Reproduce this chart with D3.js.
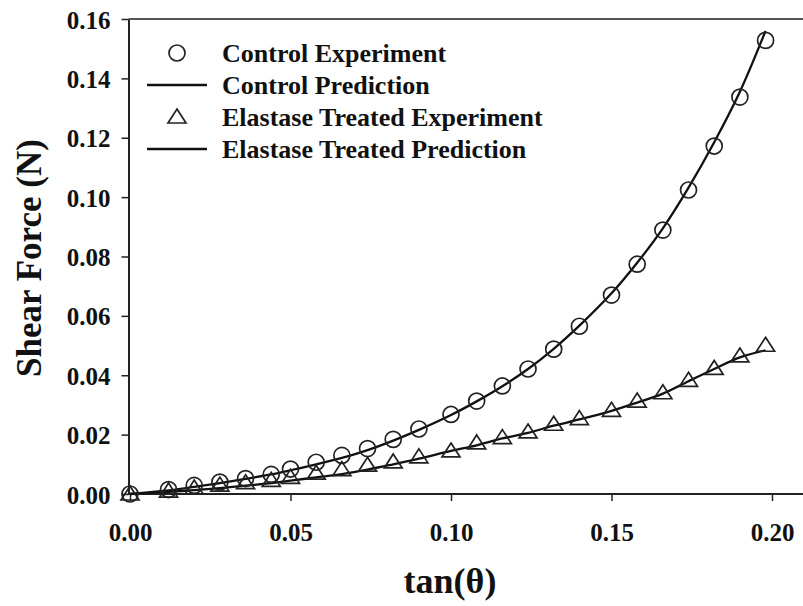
<!DOCTYPE html>
<html>
<head>
<meta charset="utf-8">
<script src="https://cdn.jsdelivr.net/npm/d3@7"></script>
<style>
  html, body { margin: 0; padding: 0; background: #fff; }
  svg { display: block; }
  text { font-family: "Liberation Serif", "Times New Roman", serif; font-weight: bold; fill: #111; }
</style>
</head>
<body>
<svg id="chart" width="803" height="606"></svg>
<script>
// ---- data ----
const tanTheta = [0, 0.012, 0.02, 0.028, 0.036, 0.044, 0.05, 0.058, 0.066, 0.074, 0.082, 0.09, 0.1, 0.108, 0.116, 0.124, 0.132, 0.14, 0.15, 0.158, 0.166, 0.174, 0.182, 0.19, 0.198];
const controlExperiment = [0, 0.0015, 0.0029, 0.0040, 0.0052, 0.0066, 0.0084, 0.0107, 0.0130, 0.0153, 0.0184, 0.0219, 0.0268, 0.0313, 0.0364, 0.0421, 0.0488, 0.0565, 0.0670, 0.0774, 0.0889, 0.1024, 0.1172, 0.1337, 0.1528];
const controlPrediction = [0, 0.0012, 0.0024, 0.0037, 0.0051, 0.0066, 0.0080, 0.0100, 0.0122, 0.0148, 0.0180, 0.0216, 0.0266, 0.0312, 0.0363, 0.0421, 0.0489, 0.0567, 0.0676, 0.0779, 0.0895, 0.1032, 0.1185, 0.1355, 0.1560];
const elastaseExperiment = [0, 0.0010, 0.0020, 0.0030, 0.0038, 0.0046, 0.0056, 0.0070, 0.0082, 0.0097, 0.0108, 0.0125, 0.0145, 0.0172, 0.0190, 0.0209, 0.0235, 0.0254, 0.0282, 0.0313, 0.0341, 0.0383, 0.0423, 0.0465, 0.0501];
const elastasePrediction = [0, 0.0007, 0.0013, 0.0020, 0.0028, 0.0037, 0.0045, 0.0056, 0.0067, 0.0082, 0.0100, 0.0119, 0.0145, 0.0164, 0.0187, 0.0206, 0.0230, 0.0251, 0.0280, 0.0308, 0.0338, 0.0380, 0.0421, 0.0460, 0.0484];
const xTicks = [0, 0.05, 0.10, 0.15, 0.20];
const yTicks = [0, 0.02, 0.04, 0.06, 0.08, 0.10, 0.12, 0.14, 0.16];
const legendLabels = ["Control Experiment", "Control Prediction", "Elastase Treated Experiment", "Elastase Treated Prediction"];
const xTitle = "tan(\u03B8)";
const yTitle = "Shear Force (N)";

// ---- layout ----
const svg = d3.select("#chart");
const W = 803, H = 606;
const padL = 128.5, padT = 19, axisY = 494;

const x = d3.scaleLinear().domain([0, 0.2]).range([130, 772]);
const y = d3.scaleLinear().domain([0, 0.16]).range([axisY, padT]);

// top frame line (grey) to right edge
svg.append("line").attr("x1", padL).attr("x2", W).attr("y1", padT).attr("y2", padT)
  .attr("stroke", "#555").attr("stroke-width", 2);

// y axis
const yAxis = d3.axisLeft(y).tickValues(yTicks).tickFormat(d3.format(".2f")).tickSize(7).tickSizeOuter(0);
const gy = svg.append("g").attr("transform", `translate(${padL},0)`).call(yAxis);
gy.select(".domain").attr("stroke", "#222").attr("stroke-width", 2);
gy.selectAll(".tick line").attr("stroke", "#222").attr("stroke-width", 1.5);
gy.selectAll(".tick text").attr("x", -18).attr("dy", "0.36em")
  .style("font-size", "25px").style("font-family", "'Liberation Serif', serif").style("font-weight", "bold").attr("fill", "#111");

// x axis (extends to right edge)
const xAxis = d3.axisBottom(x).tickValues(xTicks).tickFormat(d3.format(".2f")).tickSize(7).tickSizeOuter(0);
const gx = svg.append("g").attr("transform", `translate(0,${axisY})`).call(xAxis);
gx.select(".domain").remove();
gx.append("line").attr("x1", padL - 1).attr("x2", W).attr("y1", 0).attr("y2", 0)
  .attr("stroke", "#222").attr("stroke-width", 2);
gx.selectAll(".tick line").attr("stroke", "#222").attr("stroke-width", 1.5);
gx.selectAll(".tick text").attr("y", 29)
  .style("font-size", "25px").style("font-family", "'Liberation Serif', serif").style("font-weight", "bold").attr("fill", "#111");

// titles
svg.append("text").attr("x", 450).attr("y", 593).attr("text-anchor", "middle")
  .style("font-size", "36px").text(xTitle);
svg.append("text").attr("transform", "translate(41,258) rotate(-90)").attr("text-anchor", "middle")
  .style("font-size", "35px").text(yTitle);

// prediction lines
const line = d3.line().curve(d3.curveCatmullRom.alpha(0.5))
  .x((d, i) => x(tanTheta[i])).y(d => y(d));
[controlPrediction, elastasePrediction].forEach(arr => {
  svg.append("path").attr("d", line(arr)).attr("fill", "none")
    .attr("stroke", "#111").attr("stroke-width", 2.3);
});

// markers
const triPath = "M0,-8 L9,6 L-9,6 Z";
svg.append("g").selectAll("path").data(elastaseExperiment).join("path")
  .attr("transform", (d, i) => `translate(${x(tanTheta[i])},${y(d)})`)
  .attr("d", triPath).attr("fill", "none").attr("stroke", "#222").attr("stroke-width", 1.7);
svg.append("g").selectAll("circle").data(controlExperiment).join("circle")
  .attr("cx", (d, i) => x(tanTheta[i])).attr("cy", d => y(d)).attr("r", 8)
  .attr("fill", "none").attr("stroke", "#222").attr("stroke-width", 1.7);

// legend
const lg = svg.append("g");
const rowY = [53, 85, 117, 149];
legendLabels.forEach((lab, i) => {
  const cy = rowY[i];
  if (i === 0) lg.append("circle").attr("cx", 177).attr("cy", cy).attr("r", 8)
    .attr("fill", "none").attr("stroke", "#222").attr("stroke-width", 1.7);
  else if (i === 2) lg.append("path").attr("transform", `translate(177,${cy})`).attr("d", triPath)
    .attr("fill", "none").attr("stroke", "#222").attr("stroke-width", 1.7);
  else lg.append("line").attr("x1", 147).attr("x2", 207).attr("y1", cy).attr("y2", cy)
    .attr("stroke", "#111").attr("stroke-width", 2.3);
  lg.append("text").attr("x", 222).attr("y", cy + 9).style("font-size", "26px").text(lab);
});
</script>
</body>
</html>
